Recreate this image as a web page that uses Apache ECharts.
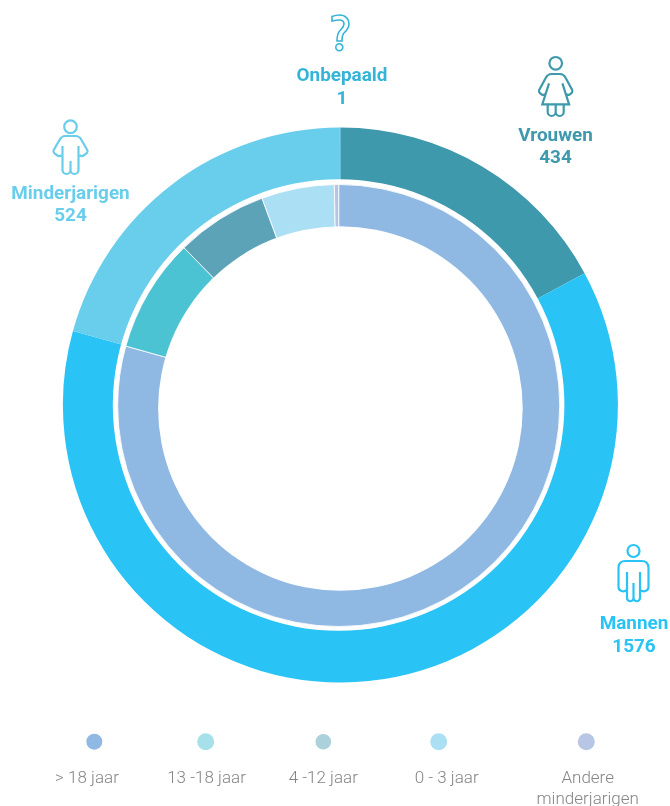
<!DOCTYPE html>
<html>
<head>
<meta charset="utf-8">
<style>html,body{margin:0;padding:0;background:#fff}#chart{width:670px;height:806px}</style>
<script src="https://cdn.jsdelivr.net/npm/echarts@6/dist/echarts.min.js"></script>
</head>
<body>
<div id="chart"></div>
<script>
var groupNames = ['Vrouwen', 'Mannen', 'Minderjarigen', 'Onbepaald'];
var groupValues = [434, 1576, 524, 1];
var groupColors = ['#3e99ac', '#29c3f5', '#69cdec', '#35b4d8'];

var ageNames = ['> 18 jaar', '13 -18 jaar', '4 -12 jaar', '0 - 3 jaar', 'Andere\nminderjarigen'];
var ageValues = [2011, 211, 170, 135, 8];
var ageColors = ['#8fb8e3', '#4cc3d3', '#5da3b8', '#abdff4', '#b7c5e4'];
var legendDotColors = ['#8fb8e3', '#a6e0ea', '#abd1da', '#abdff4', '#b7c6e4'];

var legendDotX = [94.3, 205.7, 323.3, 438.7, 586.3];
var legendDotR = [8, 8.5, 7.8, 8.5, 8.5];
var legendTextX = [87, 206.5, 323.3, 446.7, 587.7];

var labelCenters = {Vrouwen: [555.5, 147.2], Mannen: [634, 635.7], Minderjarigen: [70.5, 205.2], Onbepaald: [342, 87.7]};

var iconBody = {
  man: 'M-7 29 q-2 2 -5 1 q-3 -1 -3 -4 V7 q0 -7 7 -7 H8 q7 0 7 7 V26 q0 3 -3 4 q-3 1 -5 -1 M-6.5 11 V37 a3.25 3.25 0 0 0 6.5 0 V22 M0 37 a3.25 3.25 0 0 0 6.5 0 V11',
  child: 'M-9 19 q-2 2 -4 .5 l-3 -2 q-1.5 -1.5 -1 -3 L-11 4 q2 -4 6 -4 H5 q4 0 6 4 L17 14.5 q.5 1.5 -1 3 l-3 2 q-2 1.5 -4 -.5 M-8 10 V34 a4 4 0 0 0 8 0 V25 M0 34 a4 4 0 0 0 8 0 V10',
  woman: 'M-10 20 q-2 1.5 -4 .5 l-2 -1.5 q-1 -1 -.5 -3 L-10 4 q2 -4 6 -4 H4 q4 0 6 4 L16.5 16 q.5 2 -.5 3 l-2 1.5 q-2 1 -4 -.5 M-6.7 9.3 L-13.4 30.3 H13.4 L6.7 9.3 M-8 30.5 V38 a4 4 0 0 0 8 0 V30.5 M0 38 a4 4 0 0 0 8 0 V30.5',
  question: 'M-8 6 V1.5 Q-4 0 -.5 0 C5.5 0 9 4 9 9 C9 13.5 6 16 4 18 C2.5 19.5 2 21.5 2 26 H-3 C-3 21 -2.5 18 0 15.5 C2 13.5 4 12 4 9 C4 6.5 2 5 -1 5 C-3 5 -5.5 5.5 -8 6 Z'
};

var icons = [
  {name: 'Vrouwen', body: 'woman', x: 555.7, y: 74, head: [0, -10.7, 6.3]},
  {name: 'Mannen', body: 'man', x: 633.5, y: 561, head: [0, -10, 6]},
  {name: 'Minderjarigen', body: 'child', x: 70.5, y: 136, head: [0, -9.3, 6.3]},
  {name: 'Onbepaald', body: 'question', x: 340, y: 15, head: [-0.7, 32.3, 3.5]}
];

function renderIcon(params) {
  var ic = icons[params.dataIndex];
  var color = groupColors[groupNames.indexOf(ic.name)];
  var lw = ic.body === 'question' ? 1.6 : 2.2;
  var st = {fill: 'none', stroke: color, lineWidth: lw};
  return {
    type: 'group', x: ic.x, y: ic.y, silent: true,
    children: [
      {type: 'path', shape: {pathData: iconBody[ic.body]}, style: st},
      {type: 'circle', shape: {cx: ic.head[0], cy: ic.head[1], r: ic.head[2]}, style: st}
    ]
  };
}

function discRenderer(cx, cy, r) {
  return function () {
    return {type: 'circle', silent: true, shape: {cx: cx, cy: cy, r: r}, style: {fill: '#ffffff'}};
  };
}

var graphics = [];
groupNames.forEach(function (name, i) {
  graphics.push({
    type: 'text', x: labelCenters[name][0], y: labelCenters[name][1], silent: true,
    style: {
      text: name + '\n' + groupValues[i],
      fill: groupColors[i], font: '700 18.9px Roboto', lineHeight: 22.5,
      align: 'center', verticalAlign: 'middle'
    }
  });
});
ageNames.forEach(function (name, i) {
  graphics.push({
    type: 'circle', silent: true,
    shape: {cx: legendDotX[i], cy: 741.7, r: legendDotR[i]},
    style: {fill: legendDotColors[i]}
  });
  graphics.push({
    type: 'text', x: legendTextX[i], y: 767.9, silent: true,
    style: {
      text: name, fill: '#858585', font: '300 17px Roboto', lineHeight: 21,
      align: 'center', verticalAlign: 'top'
    }
  });
});

function pieData(names, values, colors) {
  return names.map(function (n, i) {
    return {name: n, value: values[i], itemStyle: {color: colors[i]}};
  });
}

var chart = echarts.init(document.getElementById('chart'), null, {renderer: 'canvas'});
chart.setOption({
  animation: false,
  backgroundColor: '#ffffff',
  tooltip: {show: false},
  series: [
    {
      type: 'pie', z: 1, silent: true, center: [340.4, 405], radius: [200, 277.5],
      startAngle: 90, clockwise: true, label: {show: false}, labelLine: {show: false},
      itemStyle: {borderWidth: 0},
      data: pieData(groupNames, groupValues, groupColors)
    },
    {
      type: 'custom', z: 2, coordinateSystem: 'none', silent: true,
      renderItem: discRenderer(338.6, 405, 225.8), data: [0]
    },
    {
      type: 'pie', z: 3, silent: true, center: [338.7, 405.5], radius: [165, 221],
      startAngle: 90, clockwise: true, label: {show: false}, labelLine: {show: false},
      itemStyle: {borderColor: '#ffffff', borderWidth: 0.8},
      data: pieData(ageNames, ageValues, ageColors)
    },
    {
      type: 'custom', z: 4, coordinateSystem: 'none', silent: true,
      renderItem: discRenderer(340.4, 408.5, 182.3), data: [0]
    },
    {
      type: 'custom', z: 5, coordinateSystem: 'none', silent: true,
      renderItem: renderIcon,
      data: icons.map(function (ic) { return ic.name; })
    }
  ],
  graphic: graphics
});
</script>
</body>
</html>
